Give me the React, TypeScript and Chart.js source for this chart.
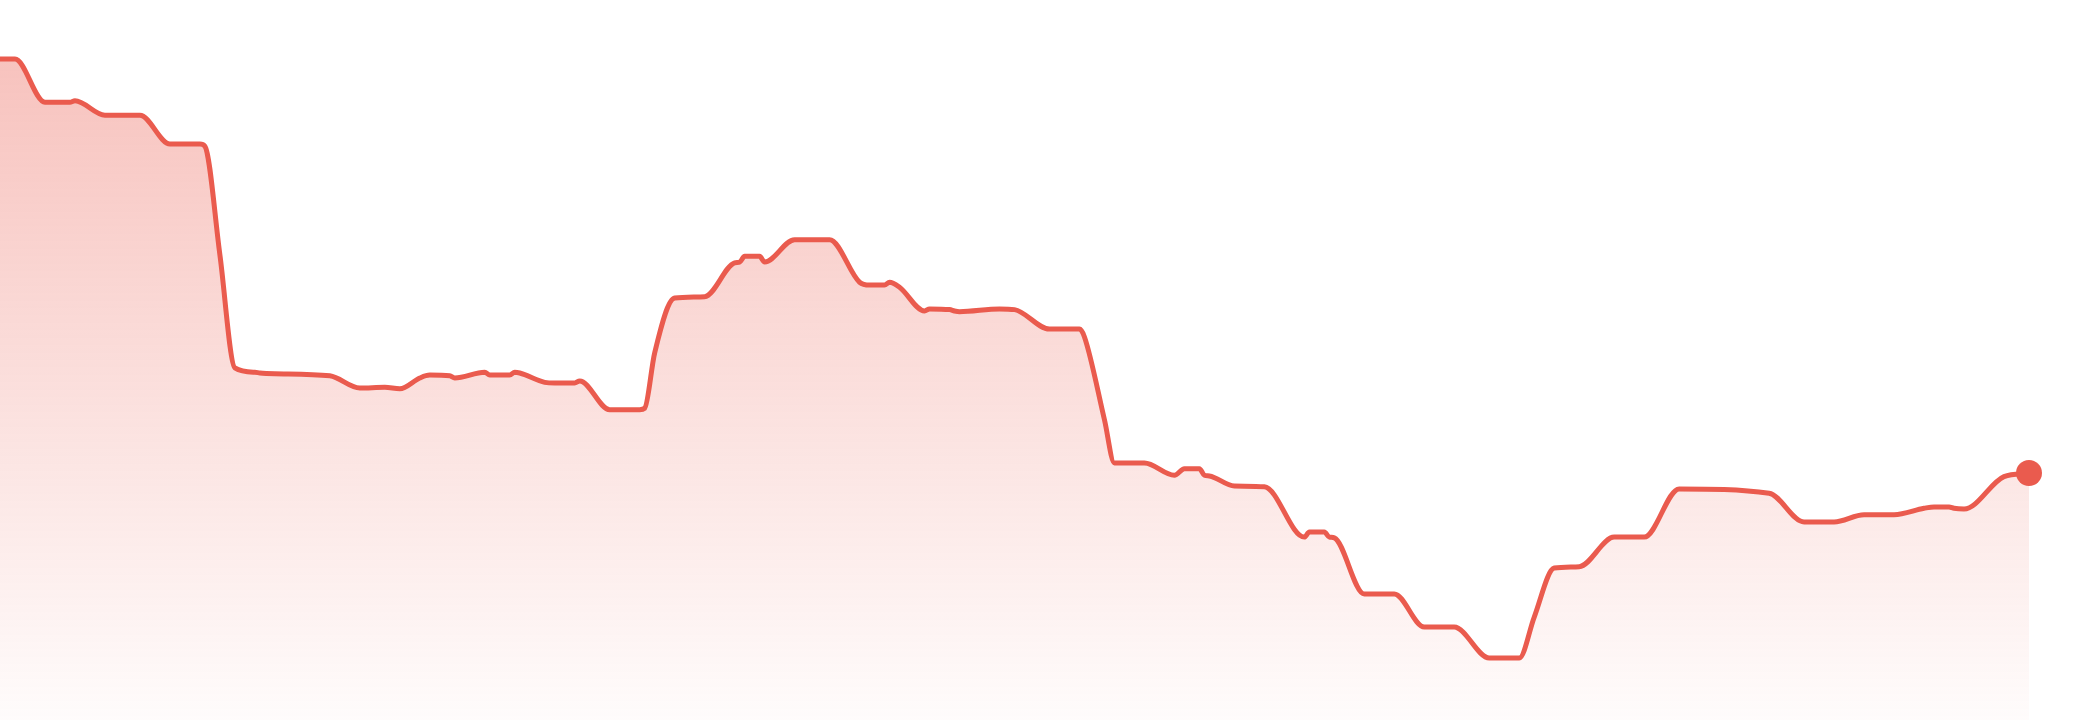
import React, { useEffect, useLayoutEffect, useRef } from "react";
import { Chart, registerables } from "chart.js";
Chart.register(...registerables);

// time steps (x) and values (y)
const steps = [
  0, 3, 9, 14, 15, 21, 28, 34, 40, 41, 44, 47, 51, 52, 55, 66, 72, 77, 80, 84,
  86, 90, 91, 97, 98, 102, 103, 104, 109, 111, 115, 116, 122, 128, 129, 131, 135, 141, 147, 148,
  149, 152, 153, 159, 166, 172, 174, 177, 178, 180, 185, 186, 190, 191, 192, 200, 203, 210, 216, 217,
  221, 223, 229, 235, 237, 240, 241, 242, 247, 253, 261, 262, 265, 266, 267, 273, 279, 285, 291, 298,
  304, 307, 311, 316, 323, 329, 336, 354, 361, 367, 373, 379, 385, 387, 390, 391, 393, 401, 406,
];
const values = [
  91.8, 91.8, 85.8, 85.8, 86.0, 84.0, 84.0, 80.0, 80.0, 79.7, 64.6, 48.9, 48.3, 48.2, 48.1, 47.8, 46.1, 46.2, 46.0, 47.5,
  47.9, 47.8, 47.5, 48.3, 47.9, 47.9, 48.3, 48.2, 46.9, 46.8, 46.8, 47.1, 43.1, 43.1, 43.3, 51.0, 58.6, 58.8, 63.5, 63.6,
  64.4, 64.4, 63.6, 66.7, 66.7, 60.8, 60.4, 60.4, 60.8, 60.1, 56.8, 57.1, 57.0, 56.8, 56.7, 57.1, 57.0, 54.3, 54.3, 53.2,
  41.7, 35.7, 35.7, 34.0, 34.9, 34.9, 34.0, 33.9, 32.5, 32.4, 25.4, 26.1, 26.1, 25.4, 25.3, 17.5, 17.5, 12.9, 12.9, 8.6,
  8.6, 14.3, 21.1, 21.3, 25.4, 25.4, 32.1, 31.5, 27.5, 27.5, 28.5, 28.5, 29.4, 29.6, 29.6, 29.4, 29.3, 33.8, 34.3,
];

const lineColor = "#ea5b4e";

const App: React.FC = () => {
  const chartRef = useRef<HTMLCanvasElement | null>(null);
  const chartInstanceRef = useRef<Chart<"line", { x: number; y: number }[]> | null>(null);

  useLayoutEffect(() => {
    document.body.style.margin = "0";
    document.body.style.overflow = "hidden";
  }, []);

  useEffect(() => {
    if (!chartRef.current) return;

    const points = steps.map((t, i) => ({ x: t, y: values[i] }));
    const last = values.length - 1;

    chartInstanceRef.current = new Chart(chartRef.current, {
      type: "line",
      data: {
        datasets: [
          {
            data: points,
            borderColor: lineColor,
            borderWidth: 5,
            cubicInterpolationMode: "monotone",
            fill: "origin",
            backgroundColor: (ctx: any) => {
              const { ctx: c, chartArea } = ctx.chart;
              if (!chartArea) return "rgba(234,91,78,0.2)";
              const g = c.createLinearGradient(0, chartArea.top, 0, chartArea.bottom);
              g.addColorStop(0, "rgba(234,91,78,0.4)");
              g.addColorStop(1, "rgba(234,91,78,0.02)");
              return g;
            },
            pointRadius: (ctx: any) => (ctx.dataIndex === last ? 13 : 0),
            pointHoverRadius: 0,
            pointBackgroundColor: lineColor,
            pointBorderWidth: 0,
            clip: false as any,
          },
        ],
      },
      options: {
        animation: false,
        responsive: true,
        maintainAspectRatio: false,
        layout: { autoPadding: false, padding: { left: 0, right: 51, top: 0, bottom: 0 } },
        scales: {
          x: { type: "linear", display: false, min: 0, max: 406 },
          y: { display: false, min: 0, max: 100 },
        },
        plugins: {
          legend: { display: false },
          tooltip: { enabled: false },
        },
      },
    });

    return () => {
      if (chartInstanceRef.current) {
        chartInstanceRef.current.destroy();
      }
    };
  }, []);

  return (
    <div style={{ position: "fixed", left: 0, top: 0, width: 2080, height: 720 }}>
      <canvas ref={chartRef} />
    </div>
  );
};

export default App;
